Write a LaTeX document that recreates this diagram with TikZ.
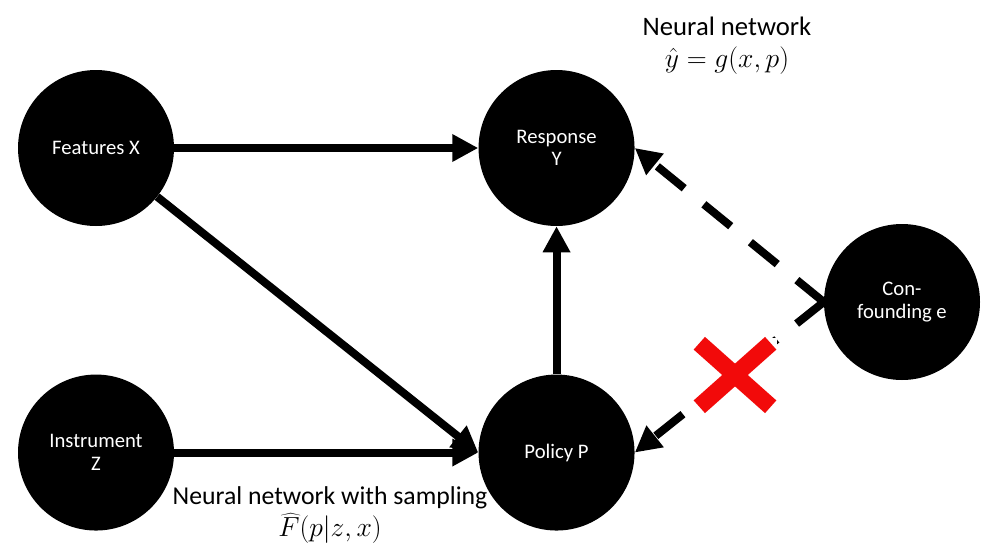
\documentclass[tikz,border=0pt]{standalone}
\usepackage{fontspec}
\setmainfont{Carlito}
\usetikzlibrary{positioning,arrows.meta}
\definecolor{crossred}{RGB}{242,10,10}
\begin{document}
\begin{tikzpicture}
            [%%%%%%%%%%%%%%%%%%%%%%%%%%%%%%%%%%%%%%%%%%%%%%%%%%%%%%%%%%
                x=0.75pt,y=-0.75pt,
                node distance=228pt,>={Triangle[length=19.5pt,width=19.5pt]},
                var/.style={circle,fill=black,text=white,inner sep=0pt,
                            minimum size=117pt,align=center,
                            font=\fontsize{15.5}{17}\selectfont},
                note/.style={align=center,font=\fontsize{20}{24}\selectfont},
                link/.style={->,line width=6pt},
                hidden/.style={->,line width=6pt,dash pattern=on 26pt off 19pt},
                cross/.style={draw=crossred,line width=12.75pt,
                              shorten <=6.6pt,shorten >=6.6pt}
            ]%%%%%%%%%%%%%%%%%%%%%%%%%%%%%%%%%%%%%%%%%%%%%%%%%%%%%%%%%%
            \useasboundingbox (0,0) rectangle (996,557);
            \node[var] (X) at (96,148) {Features X};
            \node[var] (Y) [right=of X] {Response\\Y};
            \node[var] (Z) [below=111pt of X] {Instrument\\Z};
            \node[var] (P) [right=of Z] {Policy P};
            \node[var] (E) at (902,302) {Con-\\founding e};

            \draw [link] (X) -- (Y);
            \draw [link] (X) -- (P.west);
            \draw [link] (Z) -- (P);
            \draw [link] (P) -- (Y);
            \draw [hidden] (E.west) -- (Y.east);
            \draw [hidden] (E.west) -- (P.east);

            % blocked path
            \node[fill=white,inner sep=0pt,minimum width=63pt,minimum height=56pt] (cut) at (735,375) {};
            \draw [cross] (cut.north west) -- (cut.south east);
            \draw [cross] (cut.north east) -- (cut.south west);

            \node[note] (gnet) at (727,46) {Neural network\\$\hat{y}=g(x,p)$};
            \node[note,font=\fontsize{19.3}{24}\selectfont] (fnet) at (330,515) {Neural network with sampling\\$\widehat{F}(p|z,x)$};
        \end{tikzpicture}
\end{document}
